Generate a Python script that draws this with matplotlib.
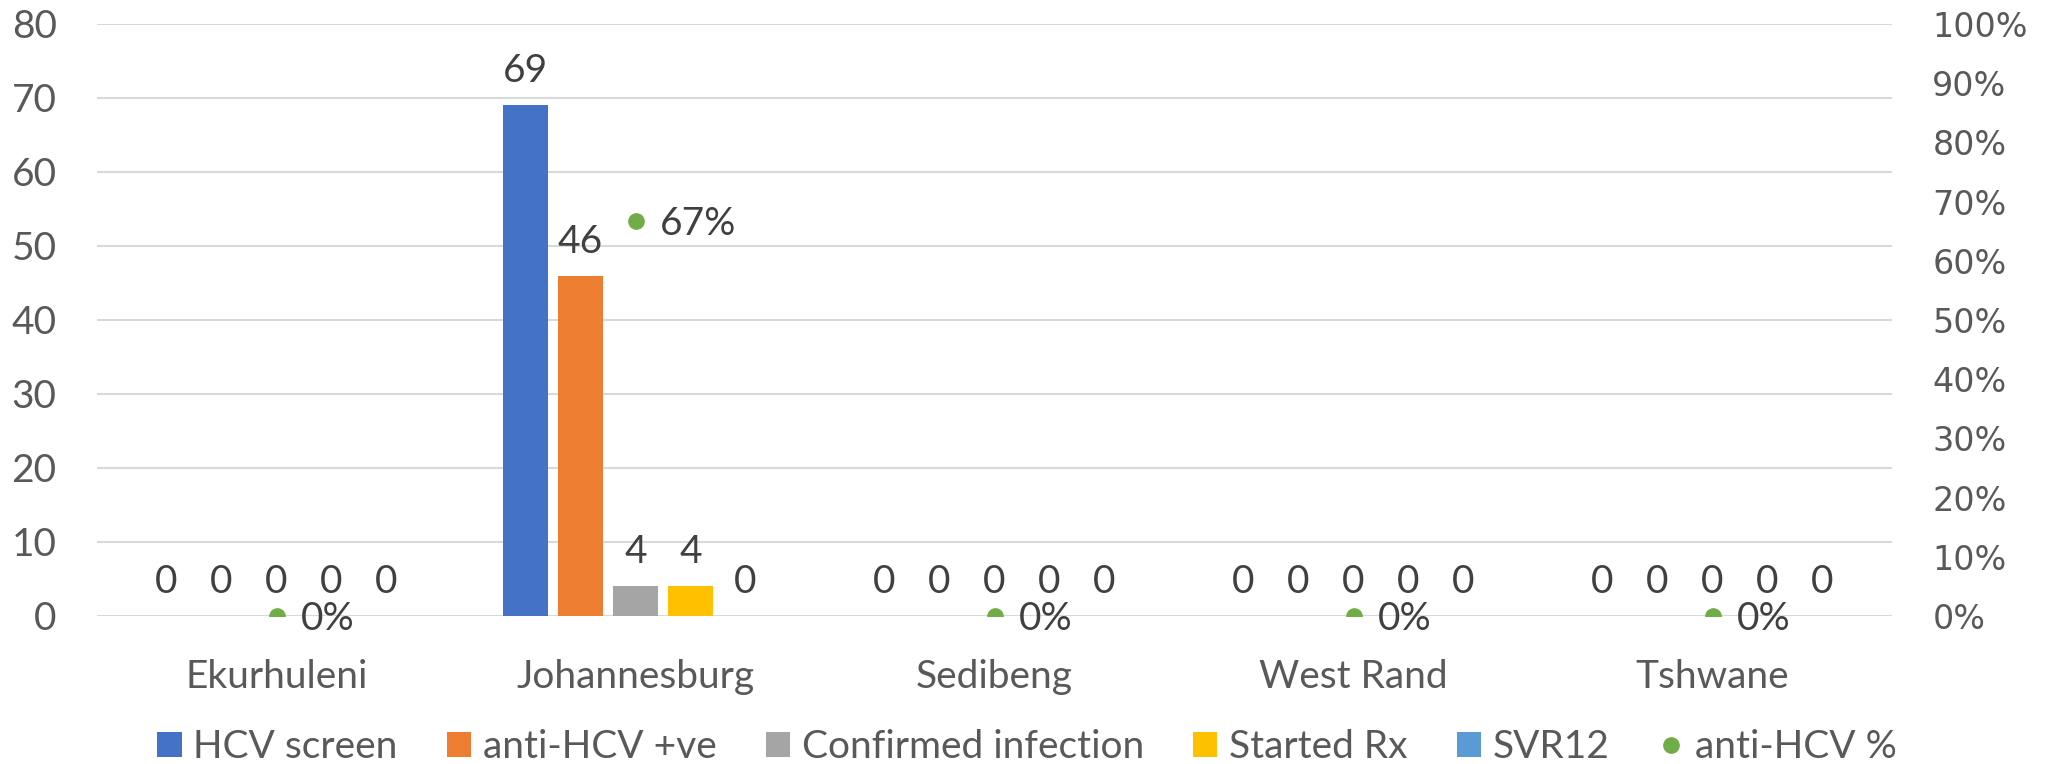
import matplotlib
matplotlib.use("Agg")
import matplotlib.pyplot as plt
from matplotlib.patches import Patch
from matplotlib.lines import Line2D
import numpy as np

# ---- data ----
categories = ["Ekurhuleni", "Johannesburg", "Sedibeng", "West Rand", "Tshwane"]
hcv_screen = [0, 69, 0, 0, 0]
anti_hcv_pos = [0, 46, 0, 0, 0]
confirmed_infection = [0, 4, 0, 0, 0]
started_rx = [0, 4, 0, 0, 0]
svr12 = [0, 0, 0, 0, 0]
anti_hcv_pct = [0.0, 0.667, 0.0, 0.0, 0.0]
left_ticks = [0, 10, 20, 30, 40, 50, 60, 70, 80]
right_ticks = [0, 0.1, 0.2, 0.3, 0.4, 0.5, 0.6, 0.7, 0.8, 0.9, 1.0]

series_names = ["HCV screen", "anti-HCV +ve", "Confirmed infection", "Started Rx", "SVR12"]
series_vals = [hcv_screen, anti_hcv_pos, confirmed_infection, started_rx, svr12]
colors = ["#4472C4", "#ED7D31", "#A5A5A5", "#FFC000", "#5B9BD5"]
green = "#70AD47"

FONT = "Lato"
FS = 28
tick_col = "#595959"
lab_col = "#404040"

fig = plt.figure(figsize=(20.46, 7.64), dpi=100)
ax = fig.add_axes([97/2046, 1-616/764, (1892-97)/2046, (616-24)/764])

x = np.arange(len(categories))
pitch = 0.1532
bw = 0.1226
for i, (name, vals, c) in enumerate(zip(series_names, series_vals, colors)):
    pos = x + (i - 2) * pitch
    ax.bar(pos, vals, width=bw, color=c, zorder=3, label=name)
    for px_, v in zip(pos, vals):
        ax.annotate(f"{v}", (px_, v), xytext=(0, 23), textcoords="offset pixels",
                    ha="center", va="baseline", fontsize=FS, family=FONT,
                    color=lab_col, zorder=5)

ax.set_xlim(-0.5, len(categories) - 0.5)
ax.set_ylim(0, 80)
ax.set_yticks(left_ticks)
ax.set_xticks(x)
ax.set_xticklabels(categories, family=FONT, fontsize=FS, color=tick_col)
for t in ax.get_yticklabels():
    t.set_family(FONT); t.set_fontsize(FS); t.set_color(tick_col)
ax.tick_params(axis="y", length=0, pad=29)
ax.tick_params(axis="x", length=0, pad=31)
ax.grid(axis="y", color="#D9D9D9", linewidth=1.5, zorder=0)
ax.set_axisbelow(True)
for s in ax.spines.values():
    s.set_visible(False)

ax2 = ax.twinx()
ax2.set_ylim(0, 1)
ax2.set_yticks(right_ticks)
ax2.set_yticklabels([f"{int(round(t*100))}%" for t in right_ticks],
                    family="DejaVu Sans", fontsize=24, color=tick_col)
ax2.tick_params(axis="y", length=0, pad=29)
for s in ax2.spines.values():
    s.set_visible(False)
ax2.plot(x, anti_hcv_pct, linestyle="none", marker="o", markersize=11,
         color=green, zorder=4)
for xi, p in zip(x, anti_hcv_pct):
    ax2.annotate(f"{int(round(p*100))}%", (xi, p), xytext=(24, -14),
                 textcoords="offset pixels", ha="left", va="baseline",
                 fontsize=FS, family=FONT, color=lab_col, zorder=5)

handles = [Patch(facecolor=c, edgecolor="none") for c in colors]
handles.append(Line2D([], [], linestyle="none", marker="o", markersize=11, color=green))
labels = series_names + ["anti-HCV %"]
leg = fig.legend(handles, labels, loc="center", bbox_to_anchor=(0.502, 1-747/764),
                 ncol=6, frameon=False, handlelength=0.62, handleheight=0.62,
                 handletextpad=0.3, columnspacing=1.27,
                 prop={"family": FONT, "size": FS})
for t in leg.get_texts():
    t.set_color(tick_col)

fig.savefig("out.png", dpi=100)
